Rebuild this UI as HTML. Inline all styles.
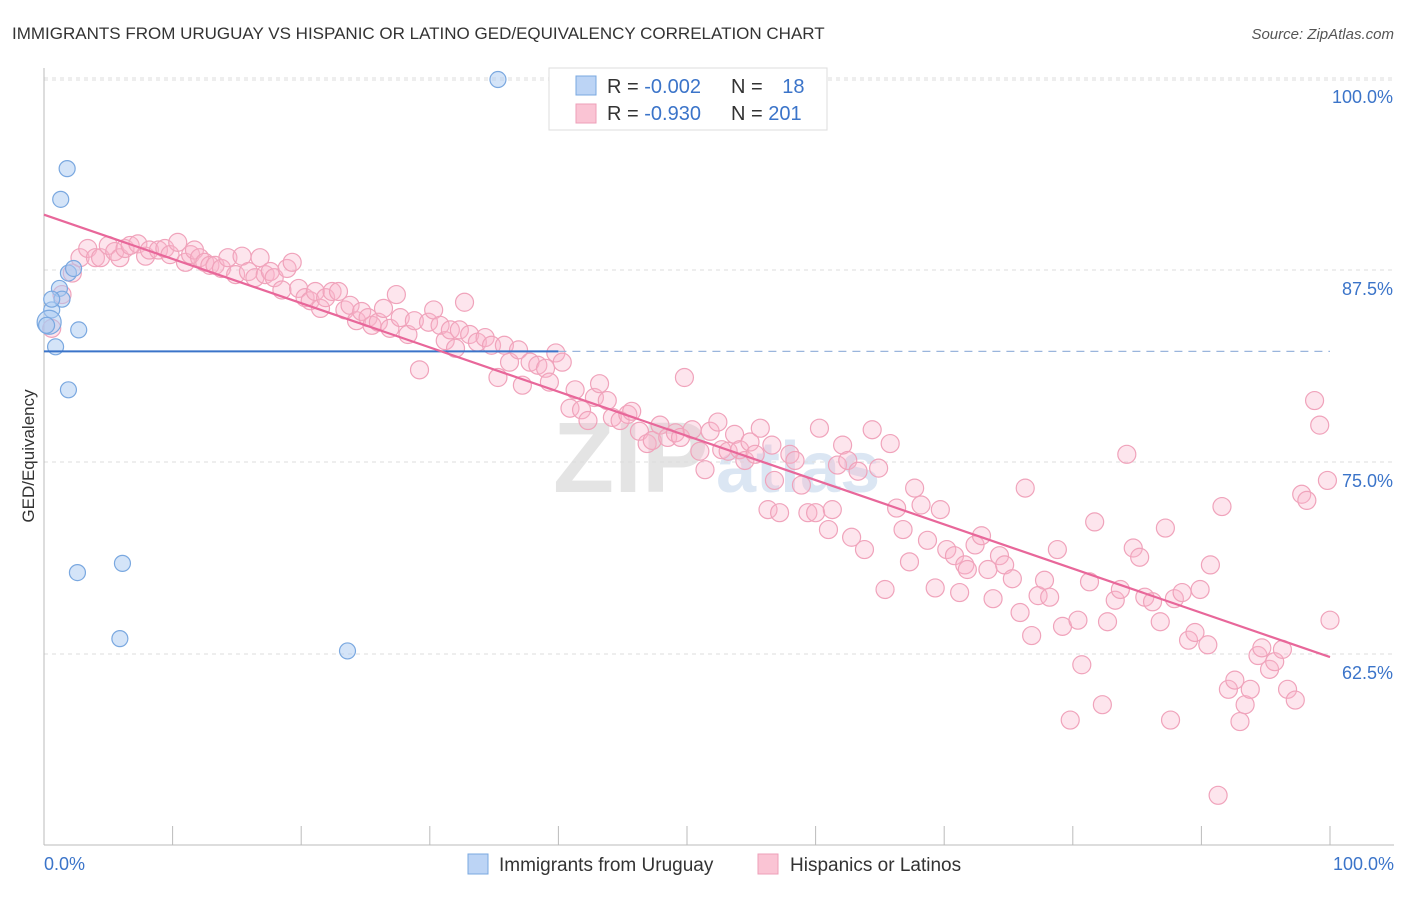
<!DOCTYPE html>
<html><head><meta charset="utf-8"><style>
body{margin:0;background:#fff;font-family:"Liberation Sans",sans-serif;}
svg text{font-family:"Liberation Sans",sans-serif;}
</style></head><body>
<svg id="chart" width="1406" height="892">
<text x="12" y="39" font-size="17" fill="#333">IMMIGRANTS FROM URUGUAY VS HISPANIC OR LATINO GED/EQUIVALENCY CORRELATION CHART</text>
<text x="1394" y="39" font-size="15" fill="#555" font-style="italic" text-anchor="end">Source: ZipAtlas.com</text>
<text transform="translate(34,456) rotate(-90)" font-size="17" fill="#333" text-anchor="middle">GED/Equivalency</text>
<text x="553" y="492" font-size="100" fill="#e4e4e4" font-family="Liberation Serif" font-weight="bold">ZIP</text>
<text x="716" y="492" font-size="72" fill="#dbe6f3" font-weight="bold">atlas</text>
<g id="grid"></g><g id="axes"></g><g id="pink"></g><g id="blue"></g><g id="lines"></g>
<g>
<rect x="549" y="68" width="278" height="62" fill="#fff" stroke="#ddd"/>
<rect x="576" y="76" width="20" height="19" fill="#bcd4f5" stroke="#7aa8e0"/>
<rect x="576" y="104" width="20" height="19" fill="#fac4d4" stroke="#ee9fb8"/>
<text x="607" y="93" font-size="20" fill="#333">R = <tspan fill="#3b74c9">-0.002</tspan></text>
<text x="731" y="93" font-size="20" fill="#333">N = <tspan fill="#3b74c9" dx="14">18</tspan></text>
<text x="607" y="120" font-size="20" fill="#333">R = <tspan fill="#3b74c9">-0.930</tspan></text>
<text x="731" y="120" font-size="20" fill="#333">N = <tspan fill="#3b74c9">201</tspan></text>
</g>
<g>
<rect x="468" y="854" width="20" height="20" fill="#bcd4f5" stroke="#7aa8e0"/>
<text x="499" y="871" font-size="19" fill="#333">Immigrants from Uruguay</text>
<rect x="758" y="854" width="20" height="20" fill="#fac4d4" stroke="#ee9fb8"/>
<text x="790" y="871" font-size="19" fill="#333">Hispanics or Latinos</text>
</g>
<text x="44" y="870" font-size="18" fill="#3b74c9">0.0%</text>
<text x="1394" y="870" font-size="18" fill="#3b74c9" text-anchor="end">100.0%</text>
</svg>
<script>
const yTicks=[100,87.5,75,62.5];
const yTickLabels=["100.0%","87.5%","75.0%","62.5%"];
const xTicks=[0,10,20,30,40,50,60,70,80,90,100];
const blueX=[35.3,1.8,1.3,1.9,1.2,1.4,0.6,0.4,2.7,0.9,1.9,2.6,6.1,5.9,23.6,0.6,0.2,2.3];
const blueY=[99.9,94.1,92.1,87.3,86.3,85.6,84.9,84.1,83.6,82.5,79.7,67.8,68.4,63.5,62.7,85.6,83.9,87.6];
const pinkX=[0.6,1.4,2.2,2.8,3.4,4.0,4.4,5.0,5.5,5.9,6.3,6.7,7.3,7.9,8.2,8.9,9.4,9.8,10.4,11.0,11.4,11.7,12.1,12.5,12.9,13.3,13.8,14.3,14.9,15.4,15.9,16.4,16.8,17.2,17.6,17.9,18.5,18.9,19.3,19.8,20.3,20.7,21.1,21.5,21.9,22.4,22.9,23.4,23.8,24.3,24.7,25.2,25.5,26.0,26.4,26.9,27.4,27.7,28.3,28.8,29.2,29.9,30.3,30.8,31.2,31.6,32.0,32.3,32.7,33.1,33.7,34.3,34.8,35.3,35.8,36.2,36.9,37.2,37.8,38.4,39.0,39.3,39.8,40.3,40.9,41.3,41.8,42.3,42.8,43.2,43.8,44.2,44.8,45.4,45.7,46.3,46.9,47.3,47.9,48.5,49.1,49.5,49.8,50.4,51.0,51.4,51.8,52.4,52.7,53.2,53.7,54.1,54.5,54.9,55.3,55.7,56.3,56.6,56.8,57.2,58.0,58.4,58.9,59.4,60.0,60.3,61.0,61.3,61.7,62.1,62.5,62.8,63.3,63.8,64.4,64.9,65.4,65.8,66.3,66.8,67.3,67.7,68.2,68.7,69.3,69.7,70.2,70.8,71.2,71.6,71.8,72.4,72.9,73.4,73.8,74.3,74.7,75.3,75.9,76.3,76.8,77.3,77.8,78.2,78.8,79.2,79.8,80.4,80.7,81.3,81.7,82.3,82.7,83.3,83.7,84.2,84.7,85.2,85.6,86.2,86.8,87.2,87.6,87.9,88.5,89.0,89.5,89.9,90.5,90.7,91.3,91.6,92.1,92.6,93.0,93.4,93.8,94.4,94.7,95.3,95.7,96.3,96.7,97.3,97.8,98.2,98.8,99.2,99.8,100];
const pinkY=[83.7,85.9,87.3,88.3,88.9,88.3,88.3,89.1,88.7,88.3,88.9,89.1,89.2,88.4,88.8,88.8,88.9,88.5,89.3,88.0,88.5,88.8,88.3,88.0,87.8,87.8,87.6,88.3,87.2,88.4,87.4,87.0,88.3,87.2,87.4,87.0,86.2,87.6,88.0,86.3,85.7,85.5,86.1,85.0,85.7,86.1,86.1,84.9,85.2,84.2,84.8,84.4,83.9,84.1,85.0,83.7,85.9,84.4,83.3,84.2,81.0,84.1,84.9,83.9,82.9,83.6,82.4,83.6,85.4,83.3,82.8,83.1,82.6,80.5,82.6,81.5,82.3,80.0,81.5,81.3,81.1,80.2,82.1,81.5,78.5,79.7,78.4,77.7,79.2,80.1,79.0,77.9,77.7,78.1,78.3,77.0,76.2,76.4,77.4,76.6,76.9,76.6,80.5,77.1,75.7,74.5,77.0,77.6,75.8,75.7,76.8,75.8,75.1,76.3,75.5,77.2,71.9,76.1,73.8,71.7,75.5,75.1,73.5,71.7,71.7,77.2,70.6,71.9,74.8,76.1,75.1,70.1,74.4,69.3,77.1,74.6,66.7,76.2,72.0,70.6,68.5,73.3,72.2,69.9,66.8,71.9,69.3,68.9,66.5,68.3,68.0,69.6,70.2,68.0,66.1,68.9,68.3,67.4,65.2,73.3,63.7,66.3,67.3,66.2,69.3,64.3,58.2,64.7,61.8,67.2,71.1,59.2,64.6,66.0,66.7,75.5,69.4,68.8,66.2,65.9,64.6,70.7,58.2,66.1,66.5,63.4,63.9,66.7,63.1,68.3,53.3,72.1,60.2,60.8,58.1,59.2,60.2,62.4,62.9,61.5,62.0,62.8,60.2,59.5,72.9,72.5,79.0,77.4,73.8,64.7];
const blueTrend=[82.2,82.2];
const pinkTrend=[91.1,62.3];
const NS="http://www.w3.org/2000/svg";
const X=v=>44+v*12.86, Y=v=>78+(100-v)*15.36;
function mk(tag,parent,attrs){const e=document.createElementNS(NS,tag);for(const k in attrs)e.setAttribute(k,attrs[k]);document.getElementById(parent).appendChild(e);return e;}
mk('line','grid',{x1:44,x2:1394,y1:Y(100)+2,y2:Y(100)+2,stroke:'#ddd','stroke-dasharray':'4,4'});
yTicks.forEach((t,i)=>{
 const l=mk('line','grid',{x1:44,x2:1394,y1:Y(t),y2:Y(t),stroke:'#ddd','stroke-dasharray':'4,4'});
 
 
 const tx=mk('text','grid',{x:1393,y:Y(t)+25,'font-size':18,fill:'#3b74c9','text-anchor':'end'});
 tx.textContent=yTickLabels[i];
 
 
});
mk('line','axes',{x1:44,x2:44,y1:68,y2:845,stroke:'#bbb'});
mk('line','axes',{x1:44,x2:1394,y1:845,y2:845,stroke:'#bbb'});
xTicks.forEach(t=>{const l=mk('line','axes',{x1:X(t),x2:X(t),y1:826,y2:845,stroke:'#bbb'});
 
 });
pinkX.forEach((x,i)=>{const c=mk('circle','pink',{cx:X(x),cy:Y(pinkY[i]),r:9,fill:'rgba(248,180,202,0.35)',stroke:'#f0a3bb','stroke-width':1.2});
 
 });
blueX.forEach((x,i)=>{const c=mk('circle','blue',{cx:X(x),cy:Y(blueY[i]),r:i==7?12:8,fill:'rgba(170,202,242,0.5)',stroke:'#7aa8e0','stroke-width':1.2});
 
 });
const b1=mk('line','lines',{x1:X(0),x2:X(40),y1:Y(blueTrend[0]),y2:Y(blueTrend[0]+(blueTrend[1]-blueTrend[0])*0.4),stroke:'#3b74c9','stroke-width':2});


const b2=mk('line','lines',{x1:X(40),x2:X(100),y1:Y(blueTrend[0]+(blueTrend[1]-blueTrend[0])*0.4),y2:Y(blueTrend[1]),stroke:'#9ab5dc','stroke-width':1.3,'stroke-dasharray':'8,6'});


const p=mk('line','lines',{x1:X(0),x2:X(100),y1:Y(pinkTrend[0]),y2:Y(pinkTrend[1]),stroke:'#e8679a','stroke-width':2.2});


</script>
</body></html>
